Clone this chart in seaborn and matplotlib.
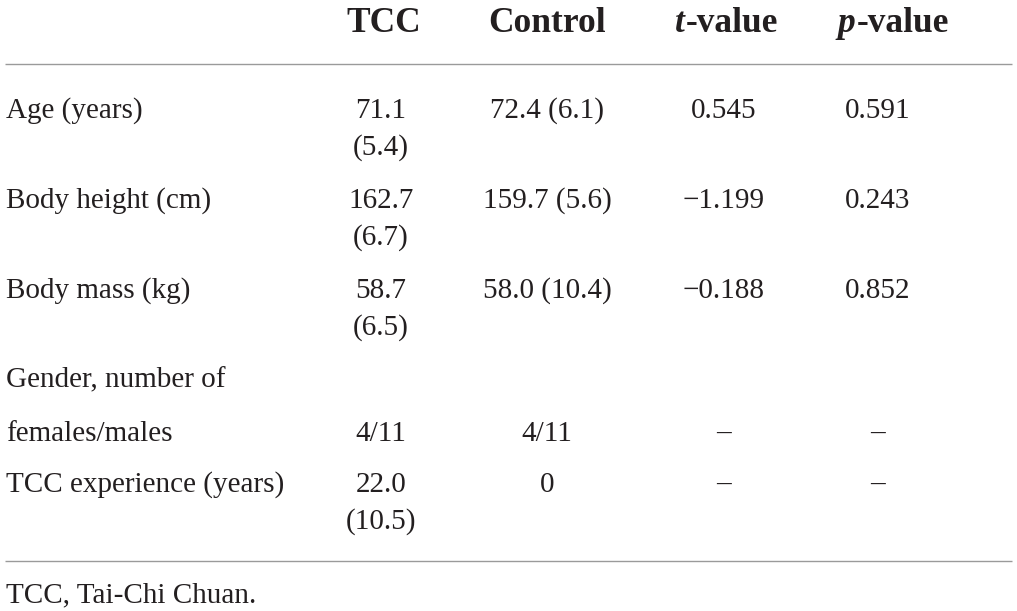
import matplotlib
matplotlib.use("Agg")
import matplotlib.pyplot as plt
import seaborn as sns

# table content
col_headers = ["TCC", "Control", "t-value", "p-value"]
row_labels = ["Age (years)", "Body height (cm)", "Body mass (kg)",
              "Gender, number of\nfemales/males", "TCC experience (years)"]
tcc_mean = ["71.1", "162.7", "58.7", "4/11", "22.0"]
tcc_sd = ["(5.4)", "(6.7)", "(6.5)", "", "(10.5)"]
control = ["72.4 (6.1)", "159.7 (5.6)", "58.0 (10.4)", "4/11", "0"]
t_values = ["0.545", "\u22121.199", "\u22120.188", "\u2013", "\u2013"]
p_values = ["0.591", "0.243", "0.852", "\u2013", "\u2013"]
footnote = "TCC, Tai-Chi Chuan."

sns.set_theme(style="white")
plt.rcParams["font.family"] = ["Liberation Serif", "DejaVu Serif"]

W, H = 1017, 611
fig = plt.figure(figsize=(W / 100, H / 100), dpi=100)
ax = fig.add_axes([0, 0, 1, 1])
ax.set_xlim(0, W)
ax.set_ylim(H, 0)
ax.axis("off")

ink = "#231f20"
body = 21
head = 25.5

# layout (pixels)
label_x = 6
head_y = 32
val_x = [381, 547, 724, 878]
head_x = [384, 547, 726, 893]
row_y = [118, 208, 298, 441, 492]
gender_top = 387
sd_gap = 37

# header
fig.canvas.draw()
rend = fig.canvas.get_renderer()
for i, h in enumerate(col_headers):
    if "-" in h:
        first, rest = h[0], h[1:]
        t1 = ax.text(0, head_y, first, fontsize=head, fontweight="bold",
                     fontstyle="italic", color=ink, va="baseline", ha="left")
        t2 = ax.text(0, head_y, rest, fontsize=head, fontweight="bold",
                     color=ink, va="baseline", ha="left")
        w1 = t1.get_window_extent(rend).width
        w2 = t2.get_window_extent(rend).width
        x0 = head_x[i] - (w1 + w2) / 2
        t1.set_x(x0)
        t2.set_x(x0 + w1 + 1)
    else:
        ax.text(head_x[i], head_y, h, fontsize=head, fontweight="bold",
                color=ink, va="baseline", ha="center")

# rules
ax.hlines([64, 561], 5, 1012, color="#9a9a9a", lw=1.0)

# body rows
for r, lab in enumerate(row_labels):
    y = row_y[r]
    if "\n" in lab:
        a, b = lab.split("\n")
        ax.text(label_x, gender_top, a, fontsize=body, color=ink, va="baseline")
        ax.text(label_x, y, b, fontsize=body, color=ink, va="baseline")
    else:
        ax.text(label_x, y, lab, fontsize=body, color=ink, va="baseline")
    ax.text(val_x[0], y, tcc_mean[r], fontsize=body, color=ink,
            va="baseline", ha="center")
    if tcc_sd[r]:
        ax.text(val_x[0], y + sd_gap, tcc_sd[r], fontsize=body, color=ink,
                va="baseline", ha="center")
    ax.text(val_x[1], y, control[r], fontsize=body, color=ink,
            va="baseline", ha="center")
    ax.text(val_x[2], y, t_values[r], fontsize=body, color=ink,
            va="baseline", ha="center")
    ax.text(val_x[3], y, p_values[r], fontsize=body, color=ink,
            va="baseline", ha="center")

ax.text(label_x, 602, footnote, fontsize=body, color=ink, va="baseline")

fig.savefig("out.png", dpi=100)
